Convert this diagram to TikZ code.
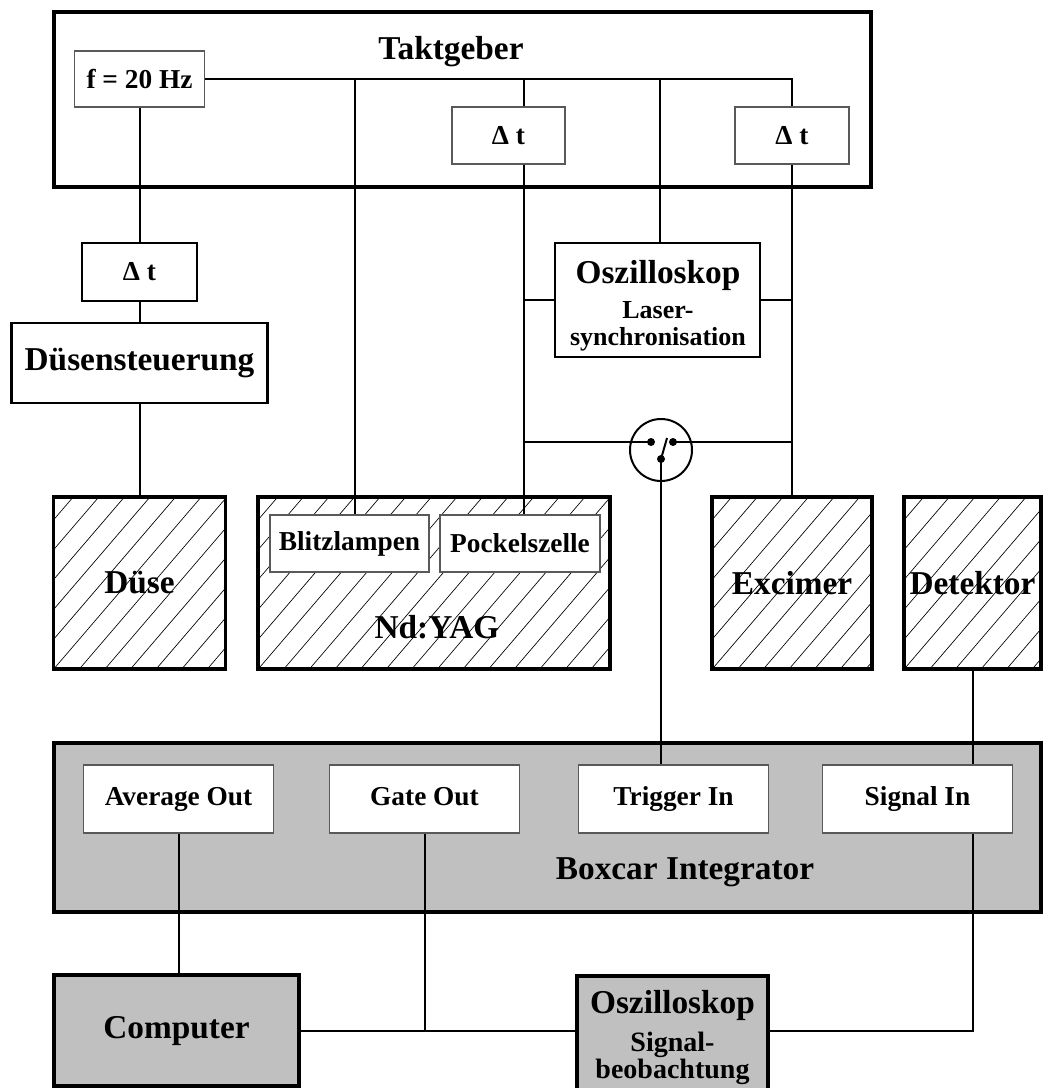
\documentclass[tikz,border=0pt]{standalone}
\usepackage{fontspec}
\setmainfont{Liberation Serif}
\definecolor{boxgray}{RGB}{192,192,192}

\begin{document}
\begin{tikzpicture}[x=0.75pt, y=-0.75pt, line width=1.5pt,
thickbox/.style={draw, line width=2.5pt, inner sep=0pt},
midbox/.style={draw, line width=2pt, fill=white, inner sep=0pt},
thinbox/.style={draw=black!65, line width=1pt, fill=white, inner sep=0pt},
portbox/.style={thinbox, smalltext, text height=14pt, text depth=4.5pt, minimum width=142.5pt, minimum height=51pt},
hatched/.style={thickbox, path picture={
    \foreach \k in {0,...,21}
      \draw[line width=0.5pt] ([xshift=\k*19.2pt-115pt]path picture bounding box.south west) -- ++(120pt,140pt);
}},
bigtext/.style={font=\bfseries\fontsize{25}{28}\selectfont},
smalltext/.style={font=\bfseries\fontsize{20.5}{24}\selectfont},
subtext/.style={align=center, font=\bfseries\fontsize{19.5}{20}\selectfont},
dot/.style={circle, fill=black, inner sep=0pt, minimum size=6pt},
]
\useasboundingbox (0,0) rectangle (1043,1088);

% Taktgeber
\node[thickbox, minimum width=612.75pt, minimum height=131.25pt] (takt) at (462.5,99.5) {};
\node[bigtext] (taktlabel) at (451,52) {Taktgeber};
\node[thinbox, smalltext, minimum width=97.5pt, minimum height=42pt] (freq) at (139.5,79) {f = 20 Hz};
\node[thinbox, smalltext, minimum width=84.75pt, minimum height=42.75pt] (dtb) at (508.5,135.5) {Δ t};
\node[thinbox, smalltext, minimum width=85.5pt, minimum height=42.75pt] (dtc) at (792,135.5) {Δ t};

% Duese links
\node[midbox, smalltext, minimum width=86.25pt, minimum height=43.5pt] (dta) at (139.5,272) {Δ t};
\node[midbox, bigtext, minimum width=192pt, minimum height=60pt] (dus) at (139.5,363) {Düsensteuerung};
\node[hatched, bigtext, minimum width=129pt, minimum height=129pt] (duse) at (139.5,583) {Düse};

% Laser
\node[hatched, minimum width=264pt, minimum height=129pt] (yag) at (434,583) {};
\node[bigtext] (yaglabel) at (437,627) {Nd:YAG};
\node[thinbox, smalltext, minimum width=119.25pt, minimum height=42.75pt] (blitz) at (349.5,543.5) {Blitzlampen};
\node[thinbox, smalltext, minimum width=120pt, minimum height=42.75pt] (pockels) at (520,543.5) {Pockelszelle};
\node[hatched, bigtext, minimum width=120pt, minimum height=129pt] (exc) at (792,583) {Excimer};
\node[hatched, bigtext, minimum width=102.75pt, minimum height=129pt] (det) at (972.5,583) {Detektor};

\node[midbox, minimum width=153.75pt, minimum height=85.5pt] (osca) at (657.5,300) {};
\node[bigtext] (oscatitle) at (658,275) {Oszilloskop};
\node[subtext] (oscasub) at (658,326) {Laser-\\synchronisation};

% Schalter
\node[circle, draw, fill=white, minimum size=46.5pt, inner sep=0pt] (sw) at (661,450) {};
\node[dot] (swl) at (651,442) {};
\node[dot] (swr) at (673,442) {};
\node[dot] (swb) at (661,459) {};

% Boxcar
\node[thickbox, fill=boxgray, minimum width=740.25pt, minimum height=126.75pt] (boxcar) at (547.5,827.5) {};
\node[bigtext] (boxcarlabel) at (685,872) {Boxcar Integrator};
\node[portbox] (avg) at (178.5,799) {Average Out};
\node[portbox] (gate) at (424.5,799) {Gate Out};
\node[portbox] (trig) at (673.5,799) {Trigger In};
\node[portbox] (sig) at (917.5,799) {Signal In};

\node[thickbox, fill=boxgray, bigtext, minimum width=183.75pt, minimum height=83.25pt] (comp) at (176.5,1030.5) {Computer};
\node[thickbox, fill=boxgray, minimum width=143.25pt, minimum height=93pt] (oscb) at (672.5,1038) {};
\node[bigtext] (oscbtitle) at (672.5,1005) {Oszilloskop};
\node[subtext, font=\bfseries\fontsize{21}{19}\selectfont] (oscbsub) at (672.5,1058) {Signal-\\beobachtung};

% Verbindungen
\coordinate (ta) at (355,79);
\coordinate (tb) at (524,79);
\coordinate (tc) at (660,79);

\draw (freq.east) -| (dtc.north);
\draw (ta) -- (ta |- blitz.north);
\draw (tb) -- (tb |- dtb.north);
\draw (tb |- dtb.south) -- (tb |- pockels.north);
\draw (tc) -- (tc |- osca.north);
\draw (dtc.south) -- (exc.north);
\draw (osca.west) -- (osca.west -| tb);
\draw (osca.east) -- (osca.east -| dtc);

\draw (freq.south) -- (dta.north);
\draw (dta.south) -- (dus.north);
\draw (dus.south) -- (duse.north);

\draw (swl.center) -- (swl -| tb);
\draw (swr.center) -- (swr -| dtc);
\draw (swb.center) -- ++(6,-21);
\draw (swb.center) -- (swb |- trig.north);
\draw (det.south) -- (det.south |- sig.north);

\draw (avg.south) -- (avg.south |- comp.north);
\draw (gate.south) -- (gate.south |- comp.east);
\draw (comp.east) -- (comp.east -| oscb.west);
\draw (sig.south -| det.south) |- (oscb.east |- comp.east);

\end{tikzpicture}
\end{document}
